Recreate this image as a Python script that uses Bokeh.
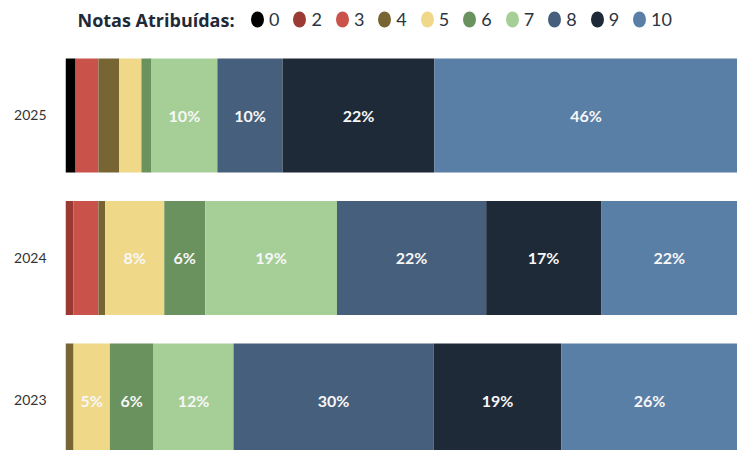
from bokeh.plotting import figure
from bokeh.models import (Range1d, FixedTicker, ColumnDataSource, LabelSet,
                          Legend, LegendItem, Label)
from bokeh.core.properties import value
from bokeh.embed import file_html
from bokeh.resources import INLINE

years = ["2023", "2024", "2025"]
grades = ["0", "2", "3", "4", "5", "6", "7", "8", "9", "10"]
colors = ["#000000", "#9a3a33", "#c9524a", "#776634", "#efd888",
          "#6a925e", "#a6cf98", "#465f7c", "#1e2a37", "#5a7fa6"]

# share of each grade (%) per year, same order as `years`
share_0 = [0.0, 0.0, 1.5]
share_2 = [0.0, 1.2, 0.0]
share_3 = [0.0, 3.7, 3.4]
share_4 = [1.2, 1.0, 3.1]
share_5 = [5.4, 8.8, 3.3]
share_6 = [6.5, 6.1, 1.5]
share_7 = [11.9, 19.6, 9.8]
share_8 = [29.8, 22.2, 9.7]
share_9 = [19.0, 17.1, 22.6]
share_10 = [26.2, 20.3, 45.1]

# printed labels per grade per year
label_0 = ["", "", ""]
label_2 = ["", "", ""]
label_3 = ["", "", ""]
label_4 = ["", "", ""]
label_5 = ["5%", "8%", ""]
label_6 = ["6%", "6%", ""]
label_7 = ["12%", "19%", "10%"]
label_8 = ["30%", "22%", "10%"]
label_9 = ["19%", "17%", "22%"]
label_10 = ["26%", "22%", "46%"]

shares = [share_0, share_2, share_3, share_4, share_5, share_6,
          share_7, share_8, share_9, share_10]
labels = [label_0, label_2, label_3, label_4, label_5, label_6,
          label_7, label_8, label_9, label_10]

FONT = "Lato"

pos = list(range(len(years)))
data = {"pos": pos}
stackers = []
for g, s in zip(grades, shares):
    key = "g" + g
    data[key] = s
    stackers.append(key)
src = ColumnDataSource(data)

p = figure(width=737, height=450, output_backend="svg", toolbar_location=None,
           x_range=Range1d(0, 100), y_range=Range1d(-0.351, 2.807),
           min_border_left=65, min_border_right=0, min_border_top=0,
           min_border_bottom=0, outline_line_color=None,
           background_fill_color="white", border_fill_color="white")

p.hbar_stack(stackers, y="pos", height=0.8, color=colors, line_color=None,
             source=src)

# value labels at segment centres
lx, ly, lt = [], [], []
for i in pos:
    left = 0.0
    for s, l in zip(shares, labels):
        if l[i]:
            lx.append(left + s[i] / 2.0)
            ly.append(i)
            lt.append(l[i])
        left += s[i]
lab_src = ColumnDataSource(dict(x=lx, y=ly, t=lt))
p.add_layout(LabelSet(x="x", y="y", text="t", source=lab_src,
                      text_align="center", text_baseline="middle",
                      text_color="#f7f7f7", text_font=value(FONT),
                      text_font_style="bold", text_font_size="16px"))

# axes
p.xaxis.visible = False
p.xgrid.visible = False
p.ygrid.visible = False
yax = p.yaxis[0]
yax.ticker = FixedTicker(ticks=pos)
yax.major_label_overrides = {i: y for i, y in zip(pos, years)}
yax.axis_line_color = None
yax.major_tick_line_color = None
yax.minor_tick_line_color = None
yax.major_tick_out = 0
yax.major_tick_in = 0
yax.major_label_standoff = 19
yax.major_label_text_font = FONT
yax.major_label_text_font_size = "14px"
yax.major_label_text_color = "#333333"

# legend
items = []
for g, c in zip(grades, colors):
    r = p.ellipse(x=[-50], y=[-50], width=13, height=16,
                  width_units="screen", height_units="screen",
                  fill_color=c, line_color=None)
    items.append(LegendItem(label=g, renderers=[r]))
legend = Legend(items=items, orientation="horizontal", location=(182, 420),
                glyph_width=20, glyph_height=20, label_height=20,
                label_width=0, label_standoff=2, spacing=10, padding=0,
                margin=0, border_line_color=None, background_fill_alpha=0,
                label_text_font=FONT, label_text_font_size="18px",
                label_text_color="#2b3440")
p.add_layout(legend)

p.add_layout(Label(x=1.79, y=2.667, text="Notas Atribuídas:",
                   text_baseline="middle", text_align="left",
                   text_font="Open Sans", text_font_style="bold",
                   text_font_size="18px", text_color="#1f2a38"))

open("out.html", "w").write(file_html(p, INLINE))
